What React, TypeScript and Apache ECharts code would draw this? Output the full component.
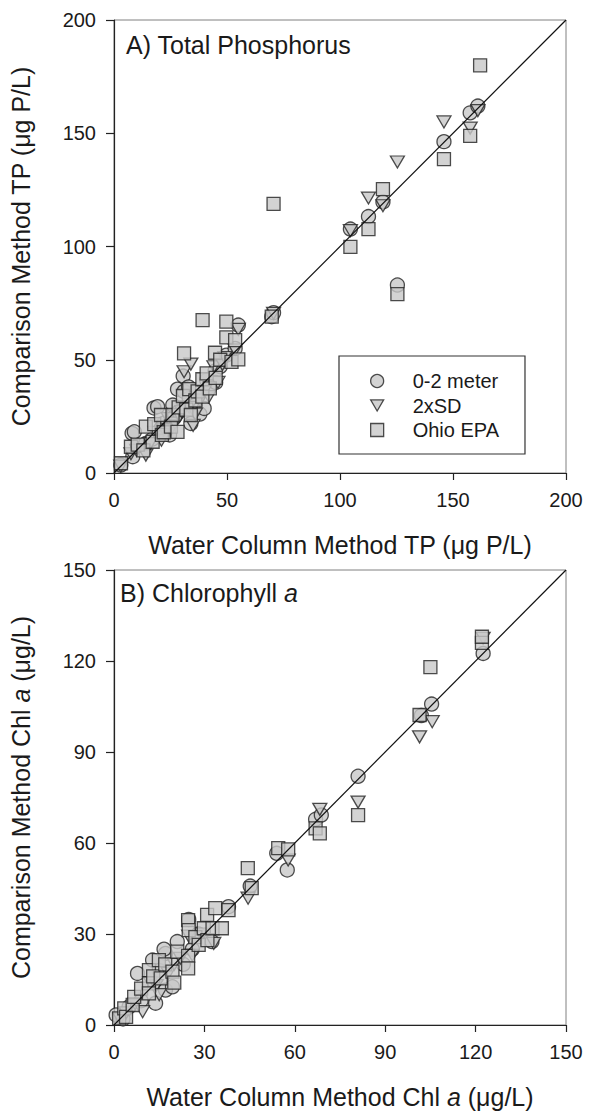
import React, { useEffect, useRef } from "react";
import * as echarts from "echarts";

// ---------- Data: A) Total Phosphorus (x = water column TP, y = comparison TP) ----------
const tpDepth: number[][] = [
  [3, 3.5], [8.3, 7.2], [8, 17.5], [9, 18.2], [10.5, 12], [14, 13], [17.7, 28.7], [19.3, 29.3],
  [17, 15], [21, 20], [22, 22], [24.6, 16.8], [25.9, 24], [26, 30], [27, 25], [28.1, 37],
  [28.6, 27], [30.6, 42.8], [31, 36], [33, 38], [33.3, 33], [34, 21.9], [36, 30], [38, 26],
  [39.9, 28.5], [41, 41], [42, 38], [44.7, 45], [45, 40], [47, 47], [49.7, 52], [53.6, 55],
  [55, 65.3], [69.8, 69], [70.6, 70.8], [104.6, 107.7], [112.6, 113.2], [119, 119.7],
  [125.4, 83], [146, 146.3], [157.6, 159], [161, 162],
];
const tpSD: number[][] = [
  [3, 3], [7.5, 8.5], [10, 10], [14.1, 7.9], [16, 13], [18, 18], [21, 14.5], [22, 19], [24, 24],
  [25, 19], [27, 22], [29, 25], [30, 27], [31, 44.7], [34, 48.1], [33.3, 29], [35, 21],
  [36, 26], [38, 32], [40, 36], [42, 33.7], [44.2, 46.9], [46, 40], [48, 48], [49, 51],
  [53.6, 54.3], [55, 63.4], [70.6, 70.5], [104.6, 107], [112.6, 121.4], [119, 118],
  [125.4, 137.3], [146, 155], [157.6, 152.3], [161, 160],
];
const tpEPA: number[][] = [
  [3.1, 4.3], [7.5, 11.6], [10.5, 12.5], [13, 10], [14.1, 20.5], [17.1, 13.8], [17.8, 21.6],
  [21.2, 16.8], [20.8, 25.6], [22, 18], [25.2, 20.5], [25.9, 25.6], [28.1, 18.2], [28.6, 29],
  [30.5, 34], [31, 52.8], [32, 28], [33.3, 37], [34, 25.6], [36, 32], [37, 36], [39.1, 33.7],
  [39.1, 41.4], [39.2, 67.5], [41, 44], [42.4, 37.4], [44.7, 53.1], [45, 42], [47, 50],
  [49.7, 66.8], [49.7, 59.9], [52, 49.1], [53.6, 58.7], [55, 50.2], [69.8, 69], [70.6, 118.8],
  [104.6, 99.8], [112.6, 107.7], [119, 125.3], [125.4, 79], [146, 138.6], [157.6, 148.8],
  [162, 180],
];

// ---------- Data: B) Chlorophyll a ----------
const chlDepth: number[][] = [
  [0.7, 3.3], [3, 2], [5, 6], [7.8, 17], [9, 8], [12.8, 21.4], [13.8, 7.2], [15, 18],
  [17.1, 11.5], [17.1, 23.6], [16.6, 25], [19.4, 12.6], [21, 27.5], [23, 20], [24.8, 34.8],
  [26, 25], [28, 30], [32.5, 27.5], [38, 39], [45.2, 45.8], [54, 56.6], [57.5, 51.1],
  [66.9, 67.8], [68.8, 69.2], [81, 82], [102, 102], [105.4, 105.8], [122.5, 122.5],
];
const chlSD: number[][] = [
  [2, 2], [4, 4], [7, 7], [9.5, 4.4], [12, 14], [14, 13], [15, 10], [18, 17], [20, 20],
  [22, 22], [24.8, 29.3], [26, 23], [29, 30], [33.1, 26.9], [44.5, 41.8], [57.8, 54.4],
  [68.3, 71.1], [81, 73.5], [101.4, 95], [105.6, 100], [122.5, 127.5],
];
const chlEPA: number[][] = [
  [1.7, 2.2], [3.4, 5.5], [4, 2.7], [6.2, 6.6], [6.7, 9.3], [9, 12], [11.6, 18.1],
  [11.6, 13.7], [11.6, 10.4], [13, 16], [14.9, 21.4], [15.5, 15.4], [17, 20], [19.4, 17.6],
  [20, 14], [21, 24.2], [24.6, 22.8], [24.6, 18.7], [24.6, 34.6], [24.8, 31.3], [27, 29],
  [28.1, 26.4], [29.8, 31.9], [30.9, 36.3], [31, 28], [32.7, 31.9], [33.6, 38.5],
  [35.8, 31.9], [38, 37.9], [44.4, 51.7], [45.7, 45.1], [54.5, 58.3], [57.8, 57.9],
  [66.9, 64.8], [68.3, 63.2], [81, 69.2], [101.4, 102.2], [105, 118], [122.1, 126],
  [122.1, 128],
];

const seriesNames = ["0-2 meter", "2xSD", "Ohio EPA"];
const tpRange = [0, 200, 50];
const chlRange = [0, 150, 30];

const FONT = "'Liberation Sans', Arial, Helvetica, sans-serif";
const TXT = "#1a1a1a";
const DOWN_TRIANGLE = "path://M0,0L14,0L7,12Z";

export default function App() {
  const ref = useRef<HTMLDivElement>(null);
  useEffect(() => {
    const chart = echarts.init(ref.current!, null, { renderer: "svg" });
    const markerStyle = { color: "#c8c8c8", borderColor: "#222", borderWidth: 1.3 };
    const scatter = (name: string, data: number[][], symbol: string, size: any, gi: number, z: number) => ({
      type: "scatter",
      name,
      data,
      symbol,
      symbolSize: size,
      xAxisIndex: gi,
      yAxisIndex: gi,
      itemStyle: markerStyle,
      z,
      silent: true,
    });
    const diag = (max: number, gi: number) => ({
      type: "line",
      data: [[0, 0], [max, max]],
      xAxisIndex: gi,
      yAxisIndex: gi,
      showSymbol: false,
      symbol: "none",
      lineStyle: { color: "#111", width: 1.2 },
      z: 6,
      silent: true,
    });
    const xAx = (gi: number, range: number[], name: string, rich: any) => ({
      gridIndex: gi,
      type: "value",
      min: range[0],
      max: range[1],
      interval: range[2],
      axisLine: { show: true, onZero: false, lineStyle: { color: "#222", width: 1.2 } },
      axisTick: { show: true, length: 7, lineStyle: { color: "#222", width: 1.2 } },
      axisLabel: { margin: 17, fontSize: 20, color: TXT, fontFamily: FONT },
      splitLine: { show: false },
      name,
      nameLocation: "middle",
      nameGap: 59,
      nameTextStyle: { fontSize: 25, color: TXT, fontFamily: FONT, rich },
    });
    const yAx = (gi: number, range: number[], name: string, rich: any) => ({
      gridIndex: gi,
      type: "value",
      min: range[0],
      max: range[1],
      interval: range[2],
      axisLine: { show: true, onZero: false, lineStyle: { color: "#222", width: 1.2 } },
      axisTick: { show: true, length: 8, lineStyle: { color: "#222", width: 1.2 } },
      axisLabel: { margin: 18, fontSize: 20, color: TXT, fontFamily: FONT },
      splitLine: { show: false },
      name,
      nameLocation: "middle",
      nameGap: 81,
      nameTextStyle: { fontSize: 25, color: TXT, fontFamily: FONT, rich },
    });
    const richI = {
      i: { fontStyle: "italic", fontSize: 25, color: TXT, fontFamily: FONT },
    };
    chart.setOption({
      animation: false,
      backgroundColor: "#ffffff",
      title: [
        {
          text: "A) Total Phosphorus",
          left: 121,
          top: 27,
          textStyle: { fontSize: 25, fontWeight: "normal", color: TXT, fontFamily: FONT },
        },
        {
          text: "B) Chlorophyll {i|a}",
          left: 115,
          top: 575,
          textStyle: {
            fontSize: 25,
            fontWeight: "normal",
            color: TXT,
            fontFamily: FONT,
            rich: { i: { fontStyle: "italic", fontSize: 25, color: TXT, fontFamily: FONT } },
          },
        },
      ],
      legend: {
        data: [
          { name: seriesNames[0], icon: "circle" },
          { name: seriesNames[1], icon: DOWN_TRIANGLE },
          { name: seriesNames[2], icon: "rect" },
        ],
        orient: "vertical",
        left: 339,
        top: 356,
        padding: [15, 26, 14, 31],
        itemGap: 4.5,
        itemWidth: 13,
        itemHeight: 13,
        borderColor: "#333",
        borderWidth: 1.2,
        borderRadius: 0,
        itemStyle: { color: "#c8c8c8", borderColor: "#222", borderWidth: 1.3 },
        textStyle: { fontSize: 20, color: TXT, fontFamily: FONT, padding: [0, 0, 0, 24] },
        selectedMode: false,
      },
      grid: [
        { left: 113, top: 20, width: 453, height: 453, show: true, borderColor: "#808080", borderWidth: 1 },
        { left: 113, top: 570, width: 453, height: 455, show: true, borderColor: "#808080", borderWidth: 1 },
      ],
      xAxis: [
        xAx(0, tpRange, "Water Column Method TP (\u03bcg P/L)", richI),
        xAx(1, chlRange, "Water Column Method Chl {i|a} (\u03bcg/L)", richI),
      ],
      yAxis: [
        yAx(0, tpRange, "Comparison Method TP (\u03bcg P/L)", richI),
        yAx(1, chlRange, "Comparison Method Chl {i|a} (\u03bcg/L)", richI),
      ],
      series: [
        scatter(seriesNames[0], tpDepth, "circle", 14, 0, 3),
        scatter(seriesNames[1], tpSD, DOWN_TRIANGLE, [14, 12], 0, 4),
        scatter(seriesNames[2], tpEPA, "rect", 13, 0, 5),
        diag(200, 0),
        scatter(seriesNames[0], chlDepth, "circle", 14, 1, 3),
        scatter(seriesNames[1], chlSD, DOWN_TRIANGLE, [14, 12], 1, 4),
        scatter(seriesNames[2], chlEPA, "rect", 13, 1, 5),
        diag(150, 1),
      ],
    });
    return () => chart.dispose();
  }, []);
  return (
    <div
      ref={ref}
      style={{ position: "fixed", left: 0, top: 0, width: 592, height: 1114, background: "#fff" }}
    />
  );
}
